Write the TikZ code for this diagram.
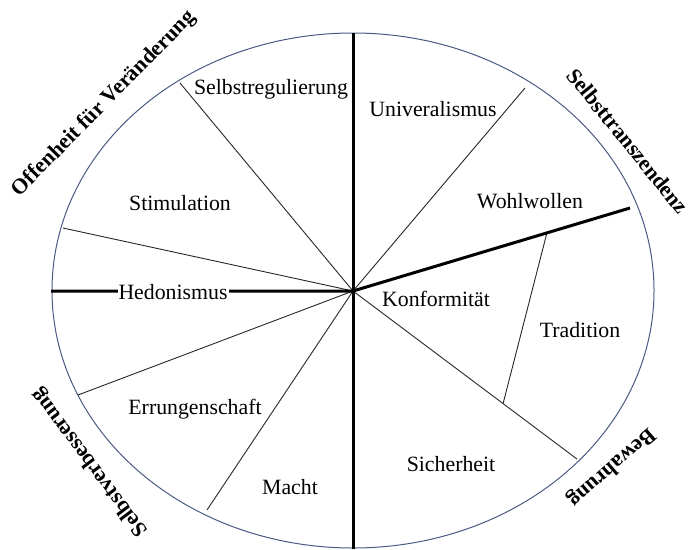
\documentclass[tikz,border=0pt]{standalone}
\usepackage{fontspec}
\setmainfont{Liberation Serif}
\usetikzlibrary{calc}
\definecolor{rim}{RGB}{74,90,130}

\begin{document}
\begin{tikzpicture}[x=1pt,y=-1pt,
  val/.style = {inner sep=1pt, font=\fontsize{21.8}{26}\selectfont},
  grp/.style = {inner sep=1pt, font=\fontsize{21.8}{26}\selectfont\bfseries},
  thinline/.style = {draw=black!85, line width=0.9pt},
  thickline/.style = {draw=black, line width=3pt}]
        \useasboundingbox (0,0) rectangle (692,549);
        \draw[rim, line width=1pt] (353,290.5) ellipse [x radius=301pt, y radius=257.5pt];
        \coordinate (c) at (353,291);
        \coordinate (t) at (353,33);
        \coordinate (b) at (353,549);
        \coordinate (l) at (51,291);
        \coordinate (r) at (630,208);
        \coordinate (1) at (180,83);
        \coordinate (2) at (63,228);
        \coordinate (3) at (525,88);
        \coordinate (4) at (78,395);
        \coordinate (5) at (207,510);
        \coordinate (6) at (577,459);
        \coordinate (7) at ($(c)!0.70!(r)$);
        \coordinate (8) at ($(c)!0.67!(6)$);
        \foreach \e in {1,...,6}
            \draw[thinline] (c) -- (\e);
        \draw[thinline] (7) -- (8);
        \draw[thickline] (t) -- (b);
        \draw[thickline, line join=round] (l) -- (c) -- (r);
        \node[val] (sr) at (271,89) {Selbstregulierung};
        \node[val] (st) at (180,203) {Stimulation};
        \node[val, fill=white] (he) at (173,292) {Hedonismus};
        \node[val] (er) at (195,409) {Errungenschaft};
        \node[val] (ma) at (290,487) {Macht};
        \node[val] (un) at (433,109) {Univeralismus};
        \node[val] (wo) at (530,201) {Wohlwollen};
        \node[val] (ko) at (436,299) {Konformität};
        \node[val] (tr) at (580,330) {Tradition};
        \node[val] (si) at (451,464) {Sicherheit};
        \node[grp, rotate=45.5] (of) at (104,104) {Offenheit für Veränderung};
        \node[grp, rotate=-51] (sz) at (628,141) {Selbsttranszendenz};
        \node[grp, rotate=221] (bw) at (611,467) {Bewahrung};
        \node[grp, rotate=127] (sv) at (90,462) {Selbstverbesserung};
\end{tikzpicture}
\end{document}
